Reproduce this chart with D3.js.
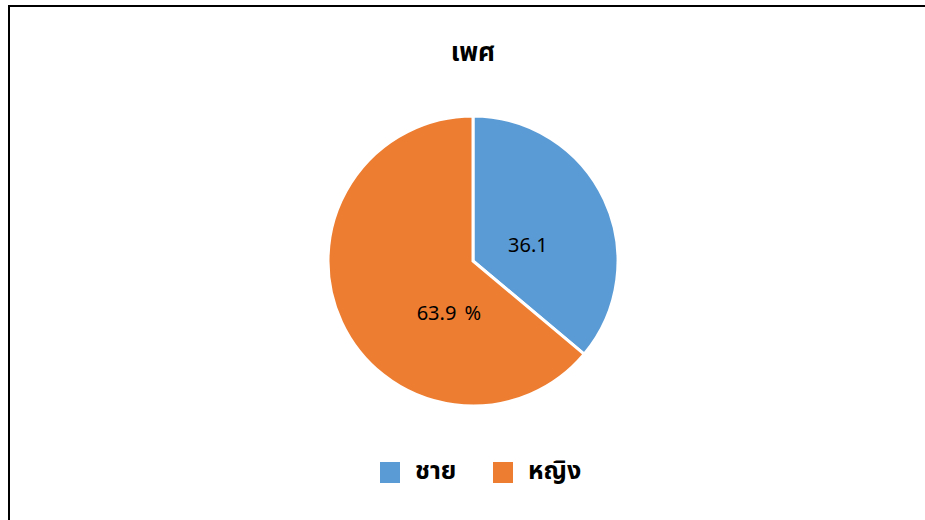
<!DOCTYPE html>
<html lang="th">
<head>
<meta charset="UTF-8">
<title>เพศ</title>
<script src="https://cdnjs.cloudflare.com/ajax/libs/d3/7.8.5/d3.min.js"></script>
<style>
  body { margin: 0; background: #fff; font-family: "Noto Sans Thai", Tahoma, "Noto Sans", sans-serif; }
  svg { display: block; }
  .title { font-size: 26px; font-weight: bold; fill: #000; }
  .slice-label { font-size: 20px; fill: #000; word-spacing: 3px; }
  .legend-text { font-size: 25px; font-weight: bold; fill: #000; }
</style>
</head>
<body>
<svg id="chart" width="925" height="520"></svg>
<script>
const categories = ["ชาย", "หญิง"];
const values = [36.1, 63.9];
const labels = ["36.1", "63.9 %"];
const colors = ["#5B9BD5", "#ED7D31"];

const svg = d3.select("#chart");

// frame (runs off the right and bottom edges)
svg.append("rect")
  .attr("x", 9).attr("y", 6)
  .attr("width", 940).attr("height", 540)
  .attr("fill", "none").attr("stroke", "#000").attr("stroke-width", 2);

svg.append("text")
  .attr("class", "title")
  .attr("x", 473).attr("y", 61)
  .attr("text-anchor", "middle")
  .text("เพศ");

const cx = 473, cy = 261, r = 145;
const pie = d3.pie().sort(null).value(d => d.value);
const arc = d3.arc().innerRadius(0).outerRadius(r);
const data = categories.map((c, i) => ({ name: c, value: values[i], label: labels[i], color: colors[i] }));

const g = svg.append("g").attr("transform", `translate(${cx},${cy})`);
const arcs = pie(data);

g.selectAll("path")
  .data(arcs)
  .enter().append("path")
  .attr("d", arc)
  .attr("fill", d => d.data.color)
  .attr("stroke", "#fff")
  .attr("stroke-width", 3);

// labels sit a bit off the mid-angle, like the spreadsheet's "best fit"
const labelR = r * 0.395;
const angleShift = [0.15, -0.70];
g.selectAll(".slice-label")
  .data(arcs)
  .enter().append("text")
  .attr("class", "slice-label")
  .attr("transform", (d, i) => {
    const a = (d.startAngle + d.endAngle) / 2 + angleShift[i];
    return `translate(${Math.sin(a) * labelR},${-Math.cos(a) * labelR})`;
  })
  .attr("text-anchor", "middle")
  .attr("dy", "0.35em")
  .text(d => d.data.label);

// legend
const legendPos = [380, 493];
const items = svg.append("g").selectAll("g")
  .data(data)
  .enter().append("g")
  .attr("transform", (d, i) => `translate(${legendPos[i]},462)`);
items.append("rect")
  .attr("width", 20).attr("height", 21)
  .attr("fill", d => d.color);
items.append("text")
  .attr("class", "legend-text")
  .attr("x", 35).attr("y", 17)
  .text(d => d.name);
</script>
</body>
</html>
